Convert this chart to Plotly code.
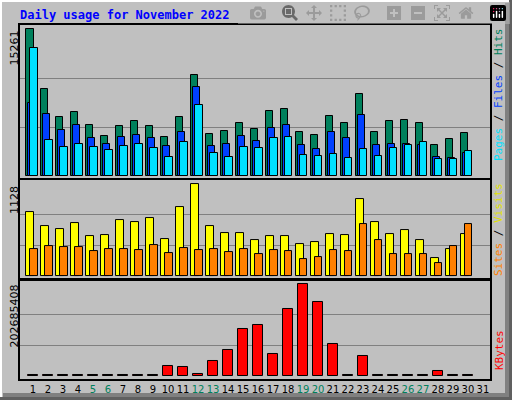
import plotly.graph_objects as go

days = list(range(1, 31))
hits = [15261, 9018, 6105, 6625, 5272, 4127, 5168, 5688, 5168, 4023, 6105, 10475, 4335, 4648, 5480,
        4856, 6729, 6937, 4544, 4232, 6209, 5480, 8498, 4544, 5688, 5792, 5480, 3191, 3815, 4440]
files = [7630, 6417, 4752, 5272, 3919, 3295, 4023, 4232, 3919, 3087, 4544, 9226, 3087, 3295, 4127,
         3607, 4960, 5272, 3191, 2775, 4544, 3919, 6313, 3191, 3295, 3295, 3191, 1942, 1838, 2359]
pages = [13284, 3711, 2983, 3295, 2983, 2671, 3087, 3295, 2879, 1942, 3503, 7353, 2359, 1942, 2983,
         2879, 3919, 4023, 2150, 2046, 2255, 1838, 2775, 2046, 2879, 3191, 3503, 1734, 1734, 2567]
visits = [785, 613, 576, 650, 490, 503, 687, 662, 711, 454, 846, 1128, 613, 527, 527,
          441, 490, 490, 392, 417, 515, 503, 944, 662, 515, 564, 441, 221, 331, 515]
sites = [331, 368, 356, 356, 307, 331, 331, 319, 380, 282, 343, 319, 331, 294, 331,
         270, 319, 307, 208, 233, 319, 307, 638, 441, 270, 270, 270, 159, 368, 638]
kbytes = [3e5, 3e5, 3e5, 3e5, 3e5, 3e5, 3e5, 3e5, 3e5, 22.3e6, 20.0e6, 4.45e6, 31.9e6, 55.7e6, 102.5e6,
          111.4e6, 46.8e6, 147e6, 202685408, 162.6e6, 69.0e6, 3e5, 44.5e6, 3e5, 3e5, 3e5, 3e5, 11.1e6, 3e5, 3e5]
weekends = [5, 6, 12, 13, 19, 20, 26, 27]
tick_days = list(range(1, 32))
max_hits, max_visits, max_kb = 15261, 1128, 202685408

BG = "#c0c0c0"
line = dict(color="black", width=1)
fig = go.Figure()
def bar(y, color, width, offset, xa, ya):
    fig.add_trace(go.Bar(x=days, y=y, width=width, offset=offset, marker=dict(color=color, line=line),
                         xaxis=xa, yaxis=ya, showlegend=False, hoverinfo="skip"))

bar(hits, "#00805c", 0.5, -0.47, "x", "y")
bar(files, "#0040ff", 0.5, -0.34, "x", "y")
bar(pages, "#00e0ff", 0.5, -0.2, "x", "y")
bar(visits, "#ffff00", 0.53, -0.47, "x2", "y2")
bar(sites, "#ff8000", 0.5, -0.2, "x2", "y2")
bar(kbytes, "#ff0000", 0.66, -0.33, "x3", "y3")

xr = [0.13, 31.47]
ax = dict(range=xr, showline=True, mirror=True, linecolor="black", linewidth=1.5, showgrid=False,
          zeroline=False, fixedrange=True)
ticktext = [f"<span style='color:#00805c'>{d}</span>" if d in weekends else str(d) for d in tick_days]
def yax(dom, rng, mx, anchor):
    return dict(domain=dom, range=rng, anchor=anchor, showline=True, mirror=True, linecolor="black",
                linewidth=1.5, tickvals=[mx / 3, 2 * mx / 3], showticklabels=False, ticks="",
                gridcolor="#808080", gridwidth=1, zeroline=False)

fig.update_layout(
    width=512, height=400, margin=dict(l=20, r=22, t=25, b=21, autoexpand=False),
    paper_bgcolor=BG, plot_bgcolor=BG, barmode="overlay", bargap=0,
    font=dict(family="DejaVu Sans", size=11, color="black"),
    xaxis=dict(**ax, anchor="y", showticklabels=False),
    xaxis2=dict(**ax, anchor="y2", showticklabels=False),
    xaxis3=dict(**ax, anchor="y3", tickvals=tick_days, ticktext=ticktext, ticks="", tickangle=0,
                tickfont=dict(family="DejaVu Sans", size=10)),
    yaxis=yax([0.568, 1], [-200, 15700], max_hits, "x"),
    yaxis2=yax([0.2825, 0.562], [-33, 1177], max_visits, "x2"),
    yaxis3=yax([0, 0.2797], [-7.6e6, 212e6], max_kb, "x3"),
)

ann = [
    dict(text="<b>Daily usage for November 2022</b>", x=18, y=15, font=dict(family="DejaVu Sans Mono", size=12, color="#0000ff"), xanchor="left"),
    dict(text=str(max_hits), x=14, y=29, textangle=-90, yanchor="top"),
    dict(text=str(max_visits), x=14, y=184, textangle=-90, yanchor="top"),
    dict(text=str(max_kb), x=14, y=283, textangle=-90, yanchor="top"),
    dict(text="<span style='color:#00e0ff'>Pages</span> / <span style='color:#0040ff'>Files</span> / <span style='color:#00805c'>Hits</span>",
         x=499, y=95, textangle=-90, font=dict(family="DejaVu Sans Mono", size=11)),
    dict(text="<span style='color:#ff8000'>Sites</span> / <span style='color:#e0e000'>Visits</span>",
         x=499, y=230, textangle=-90, font=dict(family="DejaVu Sans Mono", size=11)),
    dict(text="<span style='color:#ff0000'>KBytes</span>", x=499, y=350, textangle=-90,
         font=dict(family="DejaVu Sans Mono", size=11)),
]
for a in ann:
    xp = (a.pop("x") - 20) / 470
    yp = (379 - a.pop("y")) / 354
    fig.add_annotation(xref="paper", yref="paper", x=xp, y=yp, showarrow=False,
                       xanchor=a.pop("xanchor", "center"), yanchor=a.pop("yanchor", "middle"), **a)

def px(x): return (x - 20) / 470
def py(y): return (379 - y) / 354
for x0, y0, x1, y1, c in [(0, 0, 512, 2, "white"), (0, 0, 2, 400, "white"),
                          (0, 397, 512, 400, "#606060"), (509, 0, 512, 400, "#606060"),
                          (505, 3, 509, 397, "#808080"), (3, 393, 509, 397, "#808080")]:
    fig.add_shape(type="rect", xref="paper", yref="paper", x0=px(x0), x1=px(x1), y0=py(y1), y1=py(y0),
                  fillcolor=c, line=dict(width=0), layer="below")

fig.write_html("out.html", post_script="document.body.style.margin='0';document.body.style.padding='0';")
